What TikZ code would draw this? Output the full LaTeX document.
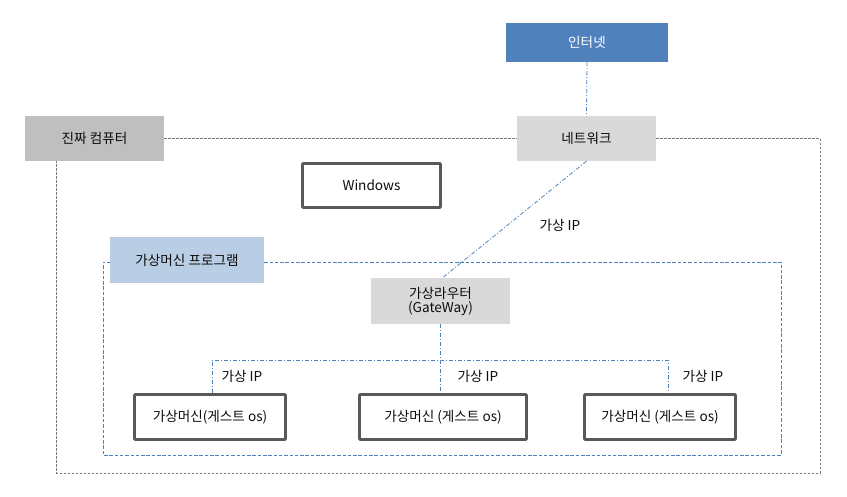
\documentclass[tikz,border=0pt]{standalone}
\usepackage{fontspec}
\setmainfont{Noto Sans CJK KR}
\definecolor{inetblue}{HTML}{4F81BD}
\definecolor{realgray}{HTML}{BFBFBF}
\definecolor{lightgray2}{HTML}{D9D9D9}
\definecolor{progblue}{HTML}{B9CDE5}
\definecolor{borderdark}{HTML}{595959}
\definecolor{dashgray}{HTML}{7A7A7A}
\definecolor{txt}{HTML}{0D0D0D}
\begin{document}
\begin{tikzpicture}[x=1pt,y=-1pt,
  every node/.style={font=\fontsize{13.6}{16}\selectfont, text=txt, inner sep=0pt, align=center},
  thickbox/.style={draw=borderdark, line width=2.7pt, fill=white, rounded corners=0.8pt},
  graydash/.style={draw=dashgray, line width=1pt, dash pattern=on 2.6pt off 1.4pt},
  bluedash/.style={draw=inetblue, line width=0.9pt, dash pattern=on 3.5pt off 1.8pt},
  bluedashdot/.style={draw=inetblue, line width=0.8pt, dash pattern=on 4pt off 2pt on 1pt off 2pt},
  iplabel/.style={}
]
\useasboundingbox (0,0) rectangle (847,497);
\fill[white] (0,0) rectangle (847,497);

% outer gray dashed frame
\node[fill=realgray, minimum width=139pt, minimum height=45pt] (real) at (94.5,138.5) {진짜 컴퓨터};
\node[fill=lightgray2, minimum width=139pt, minimum height=45pt] (net) at (586.5,138.5) {네트워크};
\node[fill=inetblue, minimum width=162pt, minimum height=39pt, text=white] (inet) at (587,42.5) {인터넷};

\coordinate (ortr) at (820,138.5);
\coordinate (orbr) at (820,473);
\coordinate (orbl) at (56.5,473);
\coordinate (ortl) at (56.5,161);
\draw[graydash] (real.east) -- (net.west);
\draw[graydash] (net.east) -- (ortr) -- (orbr) -- (orbl) -- (ortl);

% blue dashed frame
\node[fill=progblue, minimum width=154pt, minimum height=46pt] (prog) at (187,260) {가상머신 프로그램};
\coordinate (pbtr) at (781,262);
\coordinate (pbbr) at (781,455);
\coordinate (pbbl) at (103,455);
\coordinate (pbtl) at (103,262);
\draw[bluedash] (prog.east |- pbtr) -- (pbtr) -- (pbbr) -- (pbbl) -- (pbtl) -- (prog.west |- pbtl);

\node[thickbox, minimum width=138pt, minimum height=44pt] (win) at (371.5,185.5) {Windows};

\node[fill=lightgray2, minimum width=139pt, minimum height=46pt] (router) at (440.5,301) {가상라우터\\[-2pt](GateWay)};

\node[thickbox, minimum width=151pt, minimum height=45pt] (vm1) at (210,417) {가상머신(게스트 os)};
\node[thickbox, minimum width=167pt, minimum height=45pt] (vm2) at (443,417) {가상머신 (게스트 os)};
\node[thickbox, minimum width=151pt, minimum height=45pt] (vm3) at (660,417) {가상머신 (게스트 os)};

% connectors
\draw[bluedashdot] (inet.south) -- (net.north);
\draw[bluedashdot] (net.south) -- ([xshift=2pt]router.north);
\coordinate (bus) at (440,360);
\draw[bluedashdot] (router.south) -- (router.south |- vm2.north);
\draw[bluedashdot] ([xshift=2pt]vm1.north) |- (bus) -| ([xshift=8pt]vm3.north);

% labels
\node[iplabel] (ip0) at (560,225) {가상 IP};
\node[iplabel] (ip1) at (242,376) {가상 IP};
\node[iplabel] (ip2) at (478,376) {가상 IP};
\node[iplabel] (ip3) at (703,376) {가상 IP};
\end{tikzpicture}
\end{document}
